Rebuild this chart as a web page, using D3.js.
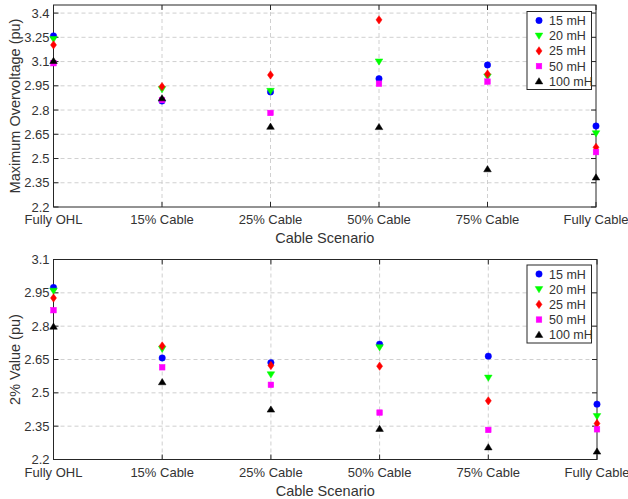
<!DOCTYPE html>
<html lang="en">
<head>
<meta charset="UTF-8">
<title>Overvoltage vs cable scenario</title>
<script src="https://d3js.org/d3.v7.min.js"></script>
<style>
  body { margin: 0; background: #fff; }
  svg { font-family: "Liberation Sans", Arial, sans-serif; }
  .grid line { stroke: #c4c4c4; stroke-dasharray: 4 3; stroke-width: 0.8; }
  .tick-lbl { fill: #333; font-size: 13px; }
</style>
</head>
<body>
<svg width="628" height="499"></svg>
<script>
// categories along x
const scenarios = ["Fully OHL", "15% Cable", "25% Cable", "50% Cable", "75% Cable", "Fully Cable"];
const inductances = ["15 mH", "20 mH", "25 mH", "50 mH", "100 mH"];

// top plot: maximum overvoltage (pu), one array per inductance
const maxOv15 = [3.259, 2.856, 2.912, 2.994, 3.079, 2.701];
const maxOv20 = [3.239, 2.929, 2.918, 3.100, 3.007, 2.656];
const maxOv25 = [3.203, 2.945, 3.017, 3.358, 3.023, 2.569];
const maxOv50 = [3.090, 2.862, 2.782, 2.963, 2.976, 2.540];
const maxOv100 = [3.104, 2.873, 2.697, 2.695, 2.434, 2.383];

// bottom plot: 2% value (pu)
const pct15 = [2.974, 2.657, 2.636, 2.719, 2.665, 2.449];
const pct20 = [2.959, 2.698, 2.583, 2.705, 2.568, 2.395];
const pct25 = [2.927, 2.711, 2.623, 2.620, 2.464, 2.362];
const pct50 = [2.872, 2.615, 2.536, 2.411, 2.333, 2.336];
const pct100 = [2.798, 2.548, 2.425, 2.338, 2.255, 2.236];

const yTicks = [2.2, 2.35, 2.5, 2.65, 2.8, 2.95, 3.1, 3.25, 3.4];
const yTicks2 = [2.2, 2.35, 2.5, 2.65, 2.8, 2.95, 3.1];

const colors = ["#0000ff", "#00ff00", "#ff0000", "#ff00ff", "#000000"];
const shapes = ["circle", "tridown", "diamond", "square", "triup"];

const svg = d3.select("svg");

function marker(g, shape, color) {
  let p;
  if (shape == "circle") p = g.append("circle").attr("r", 3.2);
  else if (shape == "square") p = g.append("rect").attr("x", -2.8).attr("y", -2.8).attr("width", 5.6).attr("height", 5.6);
  else if (shape == "diamond") p = g.append("path").attr("d", "M0,-4.2L3,0L0,4.2L-3,0Z");
  else if (shape == "tridown") p = g.append("path").attr("d", "M-3.8,-2.6L3.8,-2.6L0,3.6Z");
  else p = g.append("path").attr("d", "M-3.8,2.6L3.8,2.6L0,-3.6Z");
  p.attr("fill", color).attr("stroke", color).attr("stroke-width", 0.5);
}

function drawPanel(opt) {
  const x = d3.scaleLinear().domain([0, scenarios.length - 1]).range([opt.left, opt.right]);
  const y = d3.scaleLinear().domain(opt.domain).range([opt.bottom, opt.top]);
  const g = svg.append("g");

  // grid
  const grid = g.append("g").attr("class", "grid");
  grid.selectAll(".gy").data(opt.ticks.filter(t => y(t) > opt.top + 1 && y(t) < opt.bottom - 1))
    .enter().append("line")
    .attr("x1", opt.left).attr("x2", opt.right)
    .attr("y1", d => y(d)).attr("y2", d => y(d));
  grid.selectAll(".gx").data(d3.range(1, scenarios.length - 1))
    .enter().append("line")
    .attr("y1", opt.top).attr("y2", opt.bottom)
    .attr("x1", d => x(d)).attr("x2", d => x(d));

  // inner ticks on all four sides
  const tk = g.append("g").attr("stroke", "#262626").attr("stroke-width", 1);
  opt.ticks.forEach(t => {
    tk.append("line").attr("x1", opt.left).attr("x2", opt.left + 5).attr("y1", y(t)).attr("y2", y(t));
    tk.append("line").attr("x1", opt.right).attr("x2", opt.right - 5).attr("y1", y(t)).attr("y2", y(t));
  });
  scenarios.forEach((s, i) => {
    tk.append("line").attr("x1", x(i)).attr("x2", x(i)).attr("y1", opt.bottom).attr("y2", opt.bottom - 5);
    tk.append("line").attr("x1", x(i)).attr("x2", x(i)).attr("y1", opt.top).attr("y2", opt.top + 5);
  });

  // box
  g.append("rect").attr("x", opt.left).attr("y", opt.top)
    .attr("width", opt.right - opt.left).attr("height", opt.bottom - opt.top)
    .attr("fill", "none").attr("stroke", "#262626").attr("stroke-width", 1);

  // tick labels
  g.selectAll(".yl").data(opt.ticks).enter().append("text")
    .attr("class", "tick-lbl").attr("text-anchor", "end")
    .attr("x", opt.left - 4).attr("y", d => y(d)).attr("dy", "0.35em")
    .text(d => d);
  g.selectAll(".xl").data(scenarios).enter().append("text")
    .attr("class", "tick-lbl").attr("text-anchor", "middle")
    .attr("x", (d, i) => x(i)).attr("y", opt.bottom + 17)
    .text(d => d);

  // axis titles
  g.append("text").attr("class", "tick-lbl").attr("text-anchor", "middle")
    .attr("x", (opt.left + opt.right) / 2).attr("y", opt.bottom + 36)
    .style("font-size", "14.5px").text("Cable Scenario");
  g.append("text").attr("class", "tick-lbl").attr("text-anchor", "middle")
    .attr("transform", `translate(20,${(opt.top + opt.bottom) / 2}) rotate(-90)`)
    .style("font-size", "14.5px").text(opt.ylabel);

  // data points
  opt.series.forEach((vals, k) => {
    vals.forEach((v, i) => {
      const m = g.append("g").attr("transform", `translate(${x(i)},${y(v)})`);
      marker(m, shapes[k], colors[k]);
    });
  });

  // legend
  const lg = g.append("g").attr("transform", `translate(${opt.legX},${opt.legY})`);
  lg.append("rect").attr("width", 64.5).attr("height", 78)
    .attr("fill", "#fff").attr("stroke", "#262626").attr("stroke-width", 1);
  inductances.forEach((name, k) => {
    const row = lg.append("g").attr("transform", `translate(12,${9 + k * 15.2})`);
    marker(row, shapes[k], colors[k]);
    row.append("text").attr("class", "tick-lbl").attr("x", 10).attr("dy", "0.36em")
      .style("font-size", "12.5px").text(name);
  });
}

drawPanel({
  left: 53.5, right: 596, top: 5, bottom: 207,
  domain: [2.2, 3.45], ticks: yTicks,
  ylabel: "Maximum Overvoltage (pu)",
  series: [maxOv15, maxOv20, maxOv25, maxOv50, maxOv100],
  legX: 527, legY: 11.5
});

drawPanel({
  left: 53.5, right: 597, top: 259.5, bottom: 459.5,
  domain: [2.2, 3.1], ticks: yTicks2,
  ylabel: "2% Value (pu)",
  series: [pct15, pct20, pct25, pct50, pct100],
  legX: 527, legY: 265
});
</script>
</body>
</html>
